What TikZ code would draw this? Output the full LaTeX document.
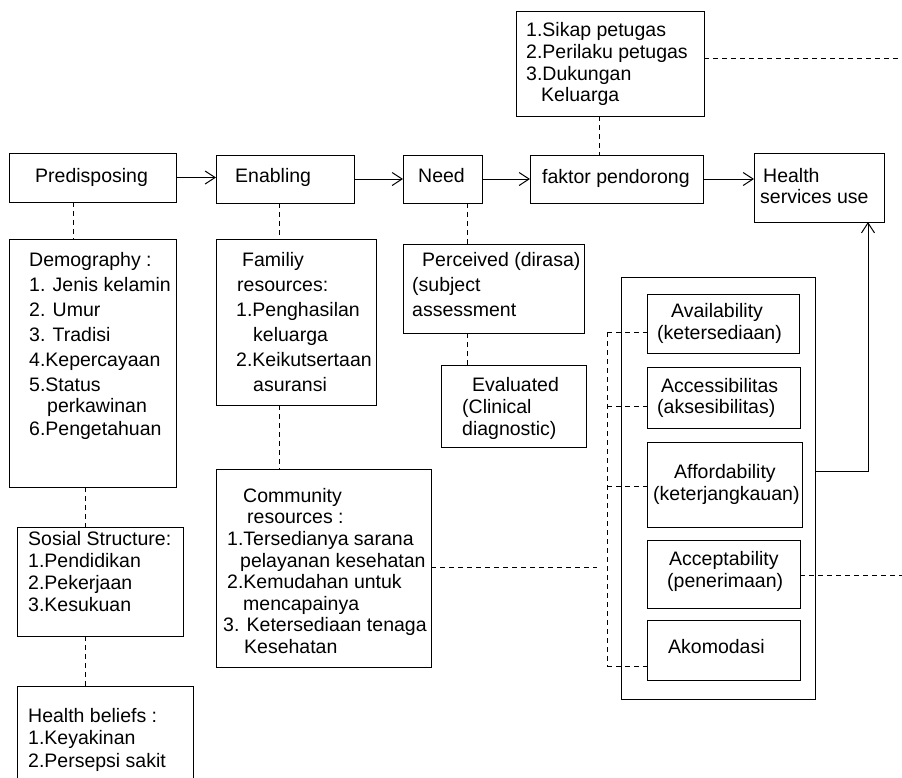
\documentclass[tikz,border=0pt]{standalone}
\usepackage{fontspec}
\setmainfont{Liberation Sans}
\usetikzlibrary{arrows.meta}

\tikzset{
  box/.style={draw, line width=1pt, anchor=north west, inner sep=0pt, outer sep=0pt},
  txt/.style={anchor=north west, yshift=14pt, inner sep=0pt, align=left, font=\fontsize{19.5}{22}\selectfont},
  link/.style={line width=0.8pt, dash pattern=on 5pt off 4pt},
  flow/.style={line width=1pt, -{Straight Barb[length=10pt,width=13pt,line width=1pt]}},
}

\begin{document}
\begin{tikzpicture}[x=1pt,y=-1pt]
  \useasboundingbox (0,0) rectangle (902,777);
  \clip (0,0) rectangle (902,777);

  % main row
  \node[box, minimum width=167pt, minimum height=49pt] (pred) at (9,153) {};
  \node[box, minimum width=138pt, minimum height=48pt] (enab) at (216,155) {};
  \node[box, minimum width=79pt, minimum height=48pt] (need) at (403,155) {};
  \node[box, minimum width=173pt, minimum height=48pt] (fakt) at (530,155) {};
  \node[box, minimum width=130pt, minimum height=69pt] (hsu) at (754,153) {};
  \node[box, minimum width=188pt, minimum height=105pt] (sikap) at (516,11) {};

  \node[txt] (predT) at (35,182) {Predisposing};
  \node[txt] (enabT) at (235,182) {Enabling};
  \node[txt] (needT) at (418,182) {Need};
  \node[txt] (faktT) at (542,183) {faktor pendorong};
  \node[txt, font=\fontsize{19.5}{21}\selectfont] (hsuT) at (760,182) {\hspace*{3pt}Health\\services use};
  \node[txt] (sikapT) at (526,36) {1.Sikap petugas\\2.Perilaku petugas\\3.Dukungan\\[-1pt]\hspace*{15pt}Keluarga};

  % predisposing column
  \node[box, minimum width=167pt, minimum height=248pt] (demo) at (9,239) {};
  \node[box, minimum width=166pt, minimum height=109pt] (sos) at (17,527) {};
  \node[box, minimum width=176pt, minimum height=140pt] (hb) at (17,686) {};

  \node[txt] (demoT) at (29,266) {Demography :\\[3pt]1. Jenis kelamin\\[3pt]2. Umur\\[3pt]3. Tradisi\\[3pt]4.Kepercayaan\\[3pt]5.Status\\[-1pt]\hspace*{18pt}perkawinan\\[1pt]6.Pengetahuan};
  \node[txt] (sosT) at (28,545) {Sosial Structure:\\1.Pendidikan\\2.Pekerjaan\\3.Kesukuan};
  \node[txt, font=\fontsize{19.5}{22.5}\selectfont] (hbT) at (28,722) {Health beliefs :\\1.Keyakinan\\2.Persepsi sakit};

  % enabling column
  \node[box, minimum width=160pt, minimum height=166pt] (fam) at (216,239) {};
  \node[box, minimum width=215pt, minimum height=198pt] (comm) at (216,469) {};

  \node[txt, font=\fontsize{19.5}{25}\selectfont] (famT) at (236,266) {\hspace*{6pt}Familiy\\\hspace*{1pt}resources:\\1.Penghasilan\\\hspace*{17pt}keluarga\\2.Keikutsertaan\\\hspace*{17pt}asuransi};
  \node[txt, font=\fontsize{19.5}{21.6}\selectfont] (commT) at (223,502) {\hspace*{20pt}Community\\\hspace*{24pt}resources :\\\hspace*{4pt}1.Tersedianya sarana\\\hspace*{17pt}pelayanan kesehatan\\\hspace*{4pt}2.Kemudahan untuk\\\hspace*{20pt}mencapainya\\3. Ketersediaan tenaga\\\hspace*{21pt}Kesehatan};

  % need column
  \node[box, minimum width=181pt, minimum height=89pt] (perc) at (403,244) {};
  \node[box, minimum width=145pt, minimum height=82pt] (eval) at (441,365) {};

  \node[txt, font=\fontsize{19.5}{25}\selectfont] (percT) at (412,266) {\hspace*{10pt}Perceived (dirasa)\\(subject\\assessment};
  \node[txt] (evalT) at (462,391) {\hspace*{10pt}Evaluated\\(Clinical\\diagnostic)};

  % access group
  \node[box, minimum width=194pt, minimum height=422pt] (grp) at (621,277) {};
  \node[box, minimum width=152pt, minimum height=59pt] (avail) at (647,294) {};
  \node[box, minimum width=153pt, minimum height=61pt] (access) at (647,367) {};
  \node[box, minimum width=155pt, minimum height=85pt] (afford) at (647,442) {};
  \node[box, minimum width=153pt, minimum height=68pt] (accept) at (647,540) {};
  \node[box, minimum width=153pt, minimum height=60pt] (akom) at (647,620) {};

  \node[txt] (availT) at (657,317) {\hspace*{14pt}Availability\\(ketersediaan)};
  \node[txt, font=\fontsize{19.5}{21}\selectfont] (accessT) at (657,392) {\hspace*{4pt}Accessibilitas\\(aksesibilitas)};
  \node[txt] (affordT) at (653,478) {\hspace*{21pt}Affordability\\(keterjangkauan)};
  \node[txt] (acceptT) at (667,565) {\hspace*{2pt}Acceptability\\(penerimaan)};
  \node[txt] (akomT) at (668,653) {Akomodasi};

  % free ends and bends
  \coordinate (sikapEnd) at (902,58);
  \coordinate (commEnd) at (597,567);
  \coordinate (acceptEnd) at (902,575);
  \coordinate (b1) at (607,332);
  \coordinate (b2) at (607,406);
  \coordinate (b3) at (607,486);
  \coordinate (b4) at (607,666);
  \coordinate (turn) at (868,471);

  % arrows
  \draw[flow] (pred.east) -- (pred.east -| enab.west);
  \draw[flow] (enab.east) -- (enab.east -| need.west);
  \draw[flow] (need.east) -- (need.east -| fakt.west);
  \draw[flow] (fakt.east) -- (fakt.east -| hsu.west);
  \draw[flow] (grp.east |- turn) -- (turn) -- (turn |- hsu.south);

  % dashed links
  \draw[link] ([xshift=-19.5pt]pred.south) -- ([xshift=-19.5pt]pred.south |- demo.north);
  \draw[link] ([xshift=-7.5pt]demo.south) -- ([xshift=-7.5pt]demo.south |- sos.north);
  \draw[link] ([xshift=-15pt]sos.south) -- ([xshift=-15pt]sos.south |- hb.north);
  \draw[link] ([xshift=-6pt]enab.south) -- ([xshift=-6pt]enab.south |- fam.north);
  \draw[link] ([xshift=-17pt]fam.south) -- ([xshift=-17pt]fam.south |- comm.north);
  \draw[link] ([xshift=24.5pt]need.south) -- ([xshift=24.5pt]need.south |- perc.north);
  \draw[link] ([xshift=-26.5pt]perc.south) -- ([xshift=-26.5pt]perc.south |- eval.north);
  \draw[link] ([xshift=-11pt]sikap.south) -- ([xshift=-11pt]sikap.south |- fakt.north);
  \draw[link] (sikap.east |- sikapEnd) -- (sikapEnd);
  \draw[link] (comm.east |- commEnd) -- (commEnd);
  \draw[link] (accept.east |- acceptEnd) -- (acceptEnd);
  \draw[link] (b1) -- (b4);
  \draw[link] (b1) -- (b1 -| avail.west);
  \draw[link] (b2) -- (b2 -| access.west);
  \draw[link] (b3) -- (b3 -| afford.west);
  \draw[link] (b4) -- (b4 -| akom.west);
\end{tikzpicture}
\end{document}
